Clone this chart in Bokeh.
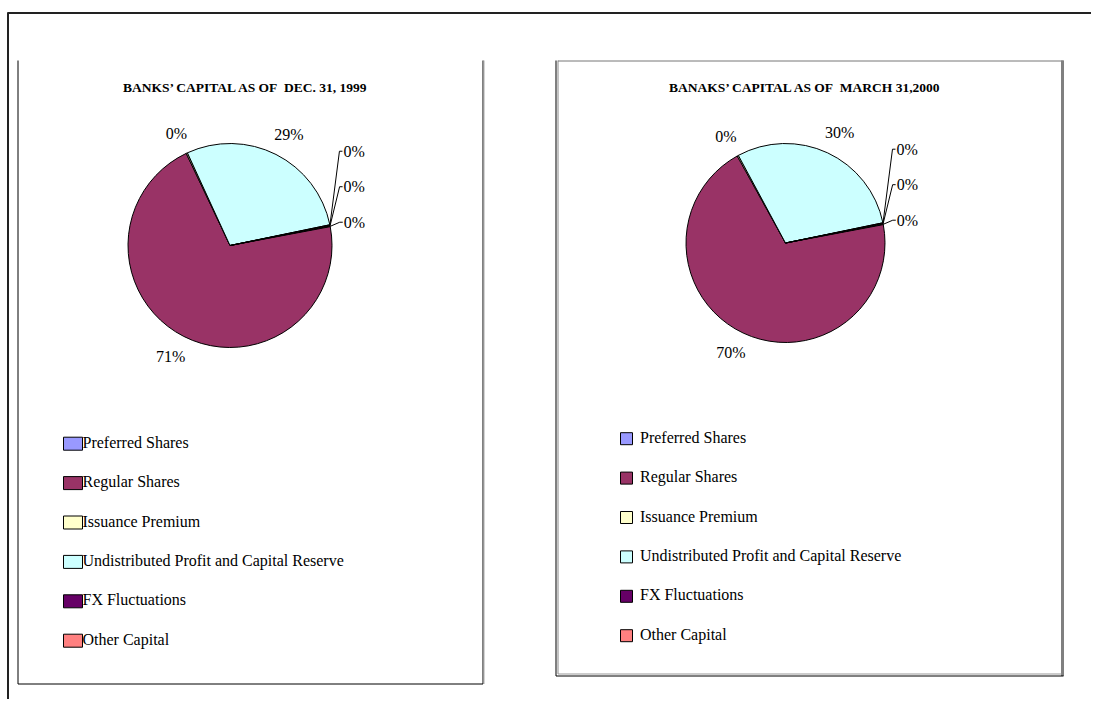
import math
from bokeh.plotting import figure
from bokeh.models import Range1d, ColumnDataSource
from bokeh.core.properties import value
from bokeh.embed import file_html
from bokeh.resources import INLINE

# ---------------- data ----------------
categories = [
    "Preferred Shares",
    "Regular Shares",
    "Issuance Premium",
    "Undistributed Profit and Capital Reserve",
    "FX Fluctuations",
    "Other Capital",
]
colors = ["#9999FF", "#993366", "#FFFFCC", "#CCFFFF", "#660066", "#FF8080"]
values_dec_1999 = [0.1, 70.9, 0.2, 28.6, 0.1, 0.1]
values_mar_2000 = [0.1, 69.9, 0.2, 29.6, 0.1, 0.1]
titles = [
    "BANKS\u2019 CAPITAL AS OF\u00a0 DEC. 31, 1999",
    "BANAKS\u2019 CAPITAL AS OF\u00a0 MARCH 31,2000",
]

# ---------------- layout / style ----------------
PAGE_H = 715
SERIF = "Liberation Serif"
LABEL_FS = 16
LEGEND_FS = 16
TITLE_FS = 13.5
FIRST_ANGLE = 79.0      # clockwise from 12 o'clock, degrees
LABEL_GAP = 14
STACK = 35.5


def Y(y_page):
    return PAGE_H - y_page


panels = [
    dict(title=titles[0], values=values_dec_1999, cx=229.5, cy=245, R=102,
         title_x=245.5, title_y=87,
         mk_x0=63, mk_w=19, mk_h=13, text_x=82, leg_y0=441.7, leg_step=39.4),
    dict(title=titles[1], values=values_mar_2000, cx=785, cy=242.5, R=99.5,
         title_x=805, title_y=87,
         mk_x0=620, mk_w=12, mk_h=12, text_x=639.5, leg_y0=436.7, leg_step=39.4),
]

p = figure(width=1091, height=699,
           x_range=Range1d(0, 1091), y_range=Range1d(16, 715),
           output_backend="svg", toolbar_location=None, min_border=0,
           x_axis_location=None, y_axis_location=None,
           outline_line_color=None, background_fill_color="white",
           border_fill_color="white")
p.grid.visible = False

# ---------------- frames ----------------
def seg(x0, y0, x1, y1, color="black", width=1.0):
    p.segment(x0=[x0], y0=[Y(y0)], x1=[x1], y1=[Y(y1)],
              line_color=color, line_width=width)

# outer frame
seg(7, 12.5, 1091, 12.5, "#222222", 2)
seg(7.5, 12, 7.5, 715, "#222222", 2)
# left panel
seg(17.5, 60, 17.5, 683.5)
seg(482.5, 60, 482.5, 683.5)
seg(483.5, 60, 483.5, 683.5, "#AAAAAA")
seg(17.5, 683.5, 482.5, 683.5)
# right panel
seg(555.5, 60, 555.5, 675.5)
seg(557.5, 60, 557.5, 673.5, "#888888")
seg(557.5, 60.5, 1063, 60.5, "#777777")
seg(1062, 60, 1062, 675.5, "#808080", 3)
seg(557.5, 673.5, 1061, 673.5, "#999999")
seg(555.5, 675.5, 1063, 675.5)


def text_w(s, fs):
    w = 0.0
    for ch in s:
        w += 0.833 if ch == "%" else 0.5
    return w * fs


for pn in panels:
    vals = pn["values"]
    total = float(sum(vals))
    shares = [v / total for v in vals]
    cx, cy, R = pn["cx"], pn["cy"], pn["R"]

    starts, ends, mids = [], [], []
    acc = 0.0
    for s in shares:
        a0 = FIRST_ANGLE + 360 * acc
        a1 = a0 + 360 * s
        acc += s
        starts.append(math.radians(90 - a1))
        ends.append(math.radians(90 - a0))
        mids.append((a0 + a1) / 2)

    src = ColumnDataSource(dict(
        x=[cx] * len(vals), y=[Y(cy)] * len(vals),
        start=starts, end=ends, color=colors))
    p.wedge(x="x", y="y", radius=R, start_angle="start", end_angle="end",
            fill_color="color", line_color="black", line_width=1, source=src)

    # data labels
    items = []
    for i, s in enumerate(shares):
        mid = math.radians(mids[i])
        ux, uy = math.sin(mid), -math.cos(mid)
        txt = f"{int(s * 100 + 0.5)}%"
        w, h = text_w(txt, LABEL_FS), LABEL_FS
        lx = cx + (R + LABEL_GAP) * ux + w / 2 * ux
        ly = cy + (R + LABEL_GAP) * uy + h / 2 * uy
        items.append(dict(i=i, txt=txt, w=w, x=lx, y=ly, ux=ux, uy=uy,
                          leader=False))

    for side in (1, -1):
        grp = [it for it in items if (it["ux"] > 0) == (side > 0)]
        grp.sort(key=lambda it: -it["y"])
        placed = []
        for it in grp:
            moved = True
            while moved:
                moved = False
                for q in placed:
                    overlap_x = abs(it["x"] - q["x"]) < (it["w"] + q["w"]) / 2
                    if overlap_x and abs(it["y"] - q["y"]) < STACK:
                        it["y"] = q["y"] - STACK
                        it["leader"] = True
                        q["leader"] = True
                        moved = True
            placed.append(it)

    p.text(x=[it["x"] for it in items], y=[Y(it["y"]) for it in items],
           text=[it["txt"] for it in items], text_align="center",
           text_baseline="middle", text_font=value(SERIF),
           text_font_size=f"{LABEL_FS}px", text_color="black")

    xs, ys = [], []
    for it in items:
        if not it["leader"]:
            continue
        ex, ey = cx + R * it["ux"], cy + R * it["uy"]
        left = it["x"] - it["w"] / 2
        xs.append([ex, left - 4, left - 1])
        ys.append([Y(ey), Y(it["y"]), Y(it["y"])])
    if xs:
        p.multi_line(xs=xs, ys=ys, line_color="black", line_width=1)

    # title
    p.text(x=[pn["title_x"]], y=[Y(pn["title_y"])], text=[pn["title"]],
           text_align="center", text_baseline="middle",
           text_font=value(SERIF), text_font_style="bold",
           text_font_size=f"{TITLE_FS}px", text_color="black")

    # legend
    n = len(categories)
    ly = [pn["leg_y0"] + k * pn["leg_step"] for k in range(n)]
    p.quad(left=[pn["mk_x0"]] * n, right=[pn["mk_x0"] + pn["mk_w"]] * n,
           top=[Y(v - pn["mk_h"] / 2 + 1.5) for v in ly],
           bottom=[Y(v + pn["mk_h"] / 2 + 1.5) for v in ly],
           fill_color=colors, line_color="black", line_width=1)
    p.text(x=[pn["text_x"]] * n, y=[Y(v) for v in ly], text=categories,
           text_align="left", text_baseline="middle",
           text_font=value(SERIF), text_font_size=f"{LEGEND_FS}px",
           text_color="black")

open("out.html", "w").write(file_html(p, INLINE))
